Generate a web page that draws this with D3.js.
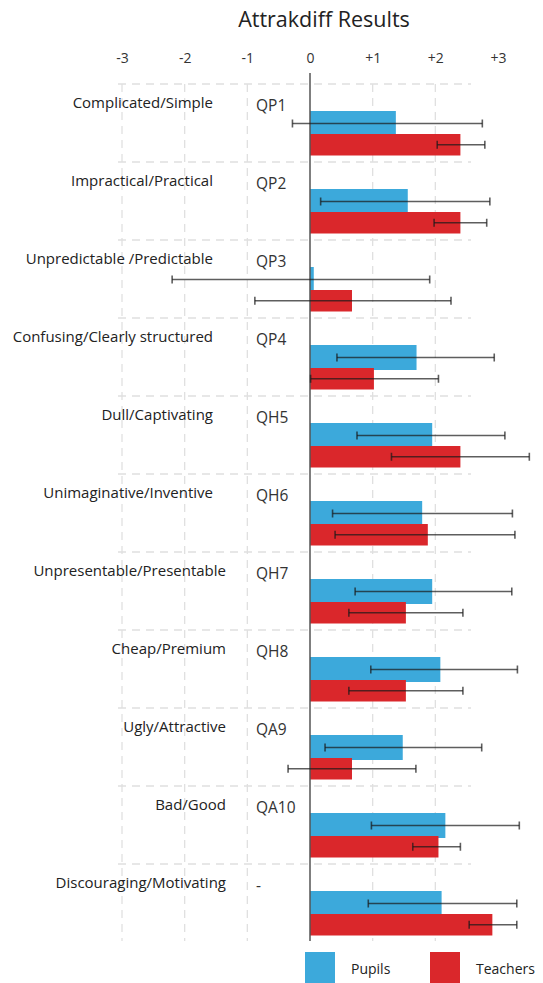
<!DOCTYPE html>
<html>
<head>
<meta charset="utf-8">
<script src="https://cdn.jsdelivr.net/npm/d3@7"></script>
<style>
  html, body { margin: 0; padding: 0; background: #fff; overflow: hidden; }
  svg { display: block; font-family: "Open Sans", Lato, sans-serif; }
</style>
</head>
<body>
<svg id="chart" width="543" height="983"></svg>
<script>
const categories = ["Complicated/Simple", "Impractical/Practical", "Unpredictable /Predictable",
  "Confusing/Clearly structured", "Dull/Captivating", "Unimaginative/Inventive",
  "Unpresentable/Presentable", "Cheap/Premium", "Ugly/Attractive", "Bad/Good",
  "Discouraging/Motivating"];
const codes = ["QP1", "QP2", "QP3", "QP4", "QH5", "QH6", "QH7", "QH8", "QA9", "QA10", "-"];

const pupils      = [1.37, 1.56, 0.06, 1.70, 1.95, 1.79, 1.95, 2.08, 1.48, 2.16, 2.10];
const pupilsLow   = [-0.28, 0.17, -2.20, 0.43, 0.75, 0.36, 0.72, 0.97, 0.24, 0.98, 0.93];
const pupilsHigh  = [2.75, 2.87, 1.91, 2.94, 3.11, 3.23, 3.22, 3.31, 2.74, 3.34, 3.30];

const teachers     = [2.40, 2.40, 0.67, 1.02, 2.40, 1.88, 1.53, 1.53, 0.67, 2.05, 2.91];
const teachersLow  = [2.03, 1.98, -0.88, 0.01, 1.30, 0.40, 0.62, 0.62, -0.35, 1.64, 2.54];
const teachersHigh = [2.79, 2.82, 2.25, 2.05, 3.50, 3.27, 2.44, 2.44, 1.69, 2.40, 3.30];

const tickValues = [-3, -2, -1, 0, 1, 2, 3];
const tickLabels = ["-3", "-2", "-1", "0", "+1", "+2", "+3"];
const gridValues = [-3, -2, -1, 1, 2];

const seriesNames = ["Pupils", "Teachers"];
const colors = ["#3ca9db", "#da272b"];

const svg = d3.select("#chart");

const x = d3.scaleLinear().domain([-3, 3]).range([122, 498]);
const y = d3.scaleBand().domain(categories).range([84, 942]);

// title
svg.append("text")
  .attr("x", 324).attr("y", 27)
  .attr("text-anchor", "middle")
  .attr("font-size", 21.5)
  .attr("fill", "#222")
  .text("Attrakdiff Results");

// tick labels
const axis = d3.axisTop(x)
  .tickValues(tickValues)
  .tickFormat((d, i) => tickLabels[i])
  .tickSize(0).tickPadding(0);
const ax = svg.append("g").attr("transform", "translate(0,63)").call(axis);
ax.select(".domain").remove();
ax.selectAll("text").attr("font-size", 14).attr("fill", "#333")
  .attr("font-family", "'Open Sans', Lato, sans-serif");

// vertical grid
svg.append("g").selectAll("line").data(gridValues).join("line")
  .attr("x1", d => x(d)).attr("x2", d => x(d))
  .attr("y1", 84).attr("y2", 941)
  .attr("stroke", "#e0e0e0").attr("stroke-width", 1.3)
  .attr("stroke-dasharray", "8,6");

// horizontal separators
svg.append("g").selectAll("line").data(categories).join("line")
  .attr("x1", 118).attr("x2", 471)
  .attr("y1", d => y(d)).attr("y2", d => y(d))
  .attr("stroke", "#e0e0e0").attr("stroke-width", 1.3)
  .attr("stroke-dasharray", "8,6");

// category labels
svg.append("g").selectAll("text").data(categories).join("text")
  .attr("x", (d, i) => i < 6 ? 213 : 226)
  .attr("y", d => y(d) + 24)
  .attr("text-anchor", "end")
  .attr("font-size", 15)
  .attr("fill", "#222")
  .text(d => d);

// codes
svg.append("g").selectAll("text").data(codes).join("text")
  .attr("x", 256)
  .attr("y", (d, i) => y(categories[i]) + 27)
  .attr("font-size", 15.5)
  .attr("fill", "#333")
  .text(d => d);

const barH = [25, 21.5];
const barOff = [27, 50];
const vals = [pupils, teachers];
const lows = [pupilsLow, teachersLow];
const highs = [pupilsHigh, teachersHigh];

// bars
[0, 1].forEach(s => {
  svg.append("g").selectAll("rect").data(vals[s]).join("rect")
    .attr("x", d => x(Math.min(0, d)))
    .attr("width", d => Math.abs(x(d) - x(0)))
    .attr("y", (d, i) => y(categories[i]) + barOff[s])
    .attr("height", barH[s])
    .attr("fill", colors[s]);
});

// axis line
svg.append("line")
  .attr("x1", x(0)).attr("x2", x(0))
  .attr("y1", 73).attr("y2", 941)
  .attr("stroke", "#555").attr("stroke-width", 1.5);

// error bars
[0, 1].forEach(s => {
  const g = svg.append("g")
    .attr("stroke", "#1a1a1a").attr("stroke-opacity", 0.7).attr("stroke-width", 1.6);
  const cy = i => y(categories[i]) + barOff[s] + barH[s] / 2;
  g.selectAll("line.main").data(vals[s]).join("line").attr("class", "main")
    .attr("x1", (d, i) => x(lows[s][i])).attr("x2", (d, i) => x(highs[s][i]))
    .attr("y1", (d, i) => cy(i)).attr("y2", (d, i) => cy(i));
  g.selectAll("line.lo").data(vals[s]).join("line").attr("class", "lo")
    .attr("x1", (d, i) => x(lows[s][i])).attr("x2", (d, i) => x(lows[s][i]))
    .attr("y1", (d, i) => cy(i) - 4).attr("y2", (d, i) => cy(i) + 4);
  g.selectAll("line.hi").data(vals[s]).join("line").attr("class", "hi")
    .attr("x1", (d, i) => x(highs[s][i])).attr("x2", (d, i) => x(highs[s][i]))
    .attr("y1", (d, i) => cy(i) - 4).attr("y2", (d, i) => cy(i) + 4);
});

// legend
const legX = [305, 430];
const leg = svg.append("g").selectAll("g").data(seriesNames).join("g")
  .attr("transform", (d, i) => `translate(${legX[i]},952)`);
leg.append("rect").attr("width", 30).attr("height", 31)
  .attr("fill", (d, i) => colors[i]);
leg.append("text").attr("x", 46).attr("y", 22)
  .attr("font-size", 14).attr("fill", "#222")
  .text(d => d);
</script>
</body>
</html>
